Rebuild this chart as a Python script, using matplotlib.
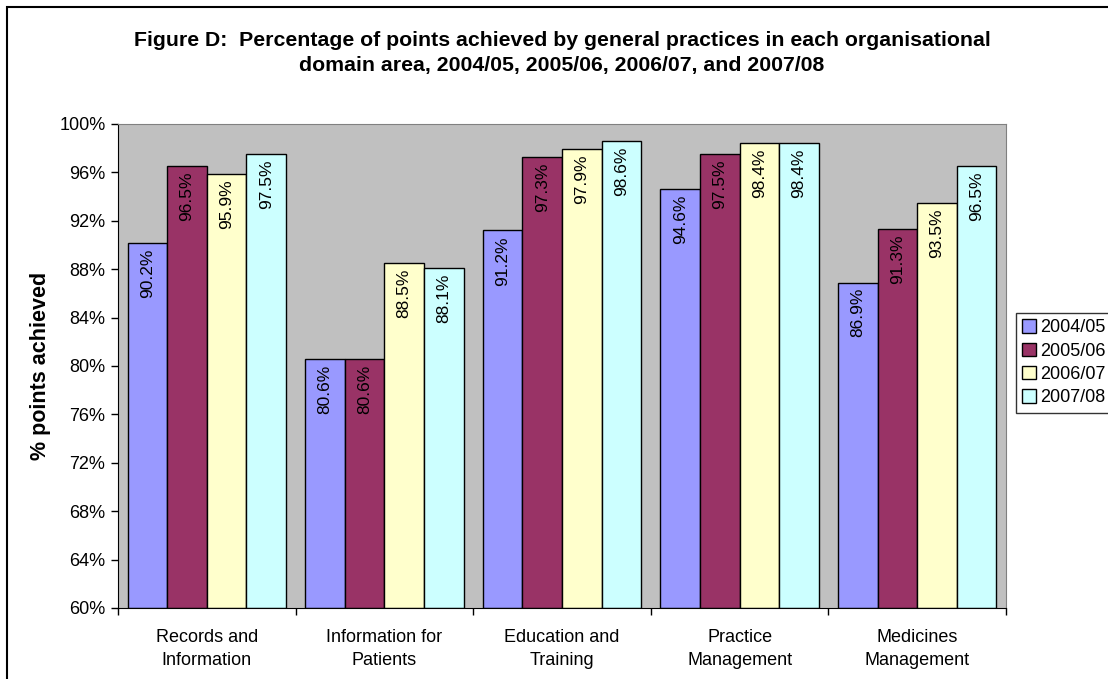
import numpy as np
import matplotlib.pyplot as plt
from matplotlib.patches import Rectangle
from matplotlib.ticker import FuncFormatter

plt.rcParams["font.family"] = ["Liberation Sans", "DejaVu Sans"]

categories = [
    "Records and\nInformation",
    "Information for\nPatients",
    "Education and\nTraining",
    "Practice\nManagement",
    "Medicines\nManagement",
]
years = ["2004/05", "2005/06", "2006/07", "2007/08"]
values = {
    "2004/05": [90.2, 80.6, 91.2, 94.6, 86.9],
    "2005/06": [96.5, 80.6, 97.3, 97.5, 91.3],
    "2006/07": [95.9, 88.5, 97.9, 98.4, 93.5],
    "2007/08": [97.5, 88.1, 98.6, 98.4, 96.5],
}
colors = ["#9999FF", "#993366", "#FFFFCC", "#CCFFFF"]

W, H = 1108, 679
fig = plt.figure(figsize=(W / 100, H / 100), dpi=100)
ax = fig.add_axes([118 / W, 1 - 608 / H, 888 / W, 484 / H])
ax.set_facecolor("#C0C0C0")

x = np.arange(len(categories))
bar_w = 0.223
for i, (yr, col) in enumerate(zip(years, colors)):
    pos = x + (i - 1.5) * bar_w
    vals = values[yr]
    ax.bar(pos, np.array(vals) - 60, bottom=60, width=bar_w, color=col,
           edgecolor="black", linewidth=1.0, label=yr, zorder=2)
    for p, v in zip(pos, vals):
        ax.annotate(f"{v:.1f}%", (p, v), xytext=(0, -4), textcoords="offset points",
                    rotation=90, ha="center", va="top", fontsize=12.5, zorder=3)

ax.set_ylim(60, 100)
ax.set_yticks(np.arange(60, 101, 4))
ax.yaxis.set_major_formatter(FuncFormatter(lambda v, _: f"{v:.0f}%"))
ax.set_xlim(-0.5, len(categories) - 0.5)
ax.set_xticks(x)
ax.set_xticklabels(categories, fontsize=13, linespacing=1.45)
ax.set_xticks(np.arange(-0.5, len(categories)), minor=True)
ax.tick_params(axis="x", which="major", length=0, pad=15)
ax.tick_params(axis="x", which="minor", length=5, direction="out", width=1)
ax.tick_params(axis="y", length=5, direction="out", labelsize=13, width=1, pad=4)

for s in ["top", "right"]:
    ax.spines[s].set_color("#808080")
for s in ["left", "bottom"]:
    ax.spines[s].set_color("black")

ax.set_ylabel("% points achieved", fontsize=15.5, fontweight="bold", labelpad=6)

fig.text(562 / W, 1 - 53 / H,
         "Figure D:  Percentage of points achieved by general practices in each organisational\n"
         "domain area, 2004/05, 2005/06, 2006/07, and 2007/08",
         ha="center", va="center", fontsize=15.3, fontweight="bold", linespacing=1.4)

leg = fig.legend(loc="upper left", bbox_to_anchor=(1016 / W, 1 - 313 / H),
                 fontsize=13, frameon=True, fancybox=False, handlelength=0.75,
                 handleheight=0.75, handletextpad=0.25, borderpad=0.35,
                 labelspacing=0.35, borderaxespad=0)
leg.get_frame().set_edgecolor("black")
leg.get_frame().set_linewidth(1.0)

fig.patches.append(Rectangle((7 / W, -0.1), 1.2, 1.1 - 7 / H, transform=fig.transFigure,
                             fill=False, edgecolor="black", linewidth=1.5))

fig.savefig("out.png", dpi=100)
